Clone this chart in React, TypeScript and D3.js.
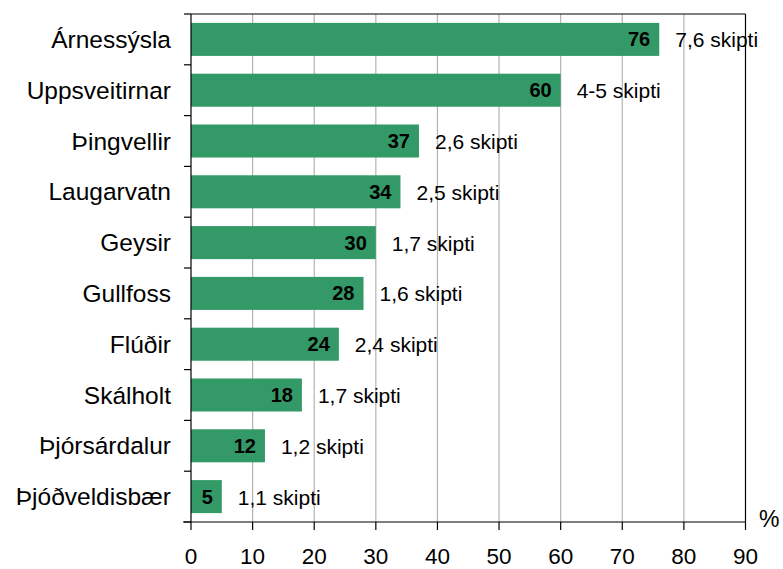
import React from "react";
import * as d3 from "d3";

const categories = [
  "Árnessýsla",
  "Uppsveitirnar",
  "Þingvellir",
  "Laugarvatn",
  "Geysir",
  "Gullfoss",
  "Flúðir",
  "Skálholt",
  "Þjórsárdalur",
  "Þjóðveldisbær",
];
const values = [76, 60, 37, 34, 30, 28, 24, 18, 12, 5];
const visitLabels = [
  "7,6 skipti",
  "4-5 skipti",
  "2,6 skipti",
  "2,5 skipti",
  "1,7 skipti",
  "1,6 skipti",
  "2,4 skipti",
  "1,7 skipti",
  "1,2 skipti",
  "1,1 skipti",
];
const xTicks = [0, 10, 20, 30, 40, 50, 60, 70, 80, 90];

const W = 783;
const H = 569;
const left = 191;
const right = 745.5;
const top = 14;
const bottom = 522;
const font = "'Liberation Sans', Arial, sans-serif";
const green = "#339966";

export default function App() {
  const x = d3.scaleLinear().domain([0, 90]).range([left, right]);
  const y = d3
    .scaleBand<string>()
    .domain(categories)
    .range([top, bottom])
    .paddingInner(0.35)
    .paddingOuter(0.175);
  const step = y.step();
  const boundaries = d3.range(categories.length + 1).map((i) => top + i * step);

  return (
    <svg
      width={W}
      height={H}
      style={{ position: "absolute", left: 0, top: 0, background: "#fff" }}
      fontFamily={font}
    >
      <rect x={0} y={0} width={W} height={H} fill="#fff" />
      {xTicks.slice(1, -1).map((t) => (
        <line key={t} x1={x(t)} x2={x(t)} y1={top} y2={bottom} stroke="#b3b3b3" strokeWidth={1.2} />
      ))}
      <line x1={left} x2={right} y1={top} y2={top} stroke="#000" strokeWidth={1.2} />
      <line x1={right} x2={right} y1={top} y2={bottom} stroke="#000" strokeWidth={1.2} />
      {categories.map((c, i) => (
        <rect key={c} x={x(0)} y={y(c)!} width={x(values[i]) - x(0)} height={y.bandwidth()} fill={green} />
      ))}
      <line x1={left} x2={left} y1={top} y2={bottom} stroke="#000" strokeWidth={1.2} />
      <line x1={left - 8} x2={right} y1={bottom} y2={bottom} stroke="#000" strokeWidth={1.2} />
      {boundaries.map((b, i) => (
        <line key={i} x1={left - 7} x2={left} y1={b} y2={b} stroke="#000" strokeWidth={1.2} />
      ))}
      {xTicks.map((t) => (
        <g key={t}>
          <line x1={x(t)} x2={x(t)} y1={bottom} y2={bottom + 8} stroke="#000" strokeWidth={1.2} />
          <text x={x(t)} y={564} textAnchor="middle" fontSize={22.5} fill="#000">
            {t}
          </text>
        </g>
      ))}
      <text x={759} y={527} fontSize={23} fill="#000">
        %
      </text>
      {categories.map((c) => (
        <text
          key={c}
          x={171}
          y={y(c)! + y.bandwidth() / 2 + 8.5}
          textAnchor="end"
          fontSize={24.5}
          fill="#000"
        >
          {c}
        </text>
      ))}
      {categories.map((c, i) => (
        <text
          key={c}
          x={x(values[i]) - 9}
          y={y(c)! + y.bandwidth() / 2 + 7}
          textAnchor="end"
          fontSize={20}
          fontWeight="bold"
          fill="#000"
        >
          {values[i]}
        </text>
      ))}
      {categories.map((c, i) => (
        <text
          key={c}
          x={x(values[i]) + 16}
          y={y(c)! + y.bandwidth() / 2 + 8}
          fontSize={21}
          fill="#000"
        >
          {visitLabels[i]}
        </text>
      ))}
    </svg>
  );
}
